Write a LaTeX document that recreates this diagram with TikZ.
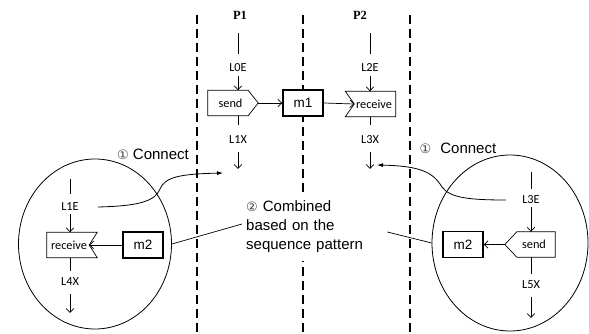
\documentclass[tikz,border=0pt]{standalone}
\usepackage{fontspec}
\setmainfont{Liberation Sans}
\newfontfamily\lblfont{Carlito}
\newfontfamily\symfont{DejaVu Sans}
\newfontfamily\headfont{Liberation Serif}
\usetikzlibrary{arrows.meta,shapes.geometric}

\newcommand{\circnum}[1]{{\symfont\fontsize{13}{13}\selectfont\color{black!75}#1}}

\begin{document}
\begin{tikzpicture}[x=1pt,y=-1pt,
  lane/.style={line width=2.2pt, dash pattern=on 9pt off 5pt},
  head/.style={font=\headfont\bfseries\fontsize{12.5}{13}\selectfont, inner sep=0pt},
  lbl/.style={font=\lblfont\fontsize{12.3}{13}\selectfont, inner sep=0pt},
  evbox/.style={minimum width=50pt, minimum height=25pt, inner sep=0pt,
    font=\lblfont\fontsize{12.3}{13}\selectfont},
  msgbox/.style={draw, fill=white, line width=1.4pt, minimum width=40pt, minimum height=26pt,
    inner sep=0pt, font=\fontsize{13.5}{15}\selectfont},
  tick/.style={line width=0.7pt},
  flow/.style={line width=0.7pt, -{Straight Barb[length=4pt,width=7.5pt]}},
  link/.style={line width=0.8pt, -{Latex[length=6pt,width=4pt]}},
  bigtext/.style={font=\fontsize{15}{19}\selectfont, inner sep=0pt},
  cell/.style={draw, line width=0.8pt, ellipse, inner sep=0pt}
]
\useasboundingbox (0,0) rectangle (589,334);

% process lanes
\draw[lane] (197,15) -- (197,334);
\draw[lane] (303,15) -- (303,334);
\draw[lane] (410,15) -- (410,334);

\node[head] (p1) at (240,15) {P1};
\node[head] (p2) at (360,15) {P2};

% explanation text (white background hides the lane behind it)
\node[bigtext, fill=white, anchor=west, align=left, text width=137pt,
  inner xsep=4pt, inner ysep=8pt] (combo) at (242,227)
  {\circnum{②} Combined\\based on the\\sequence pattern};

% ---- process P1 ----
\coordinate (a0) at (238,33);
\node[lbl] (l0e) at (238,68) {L0E};
\node[evbox] (s1) at (233,103) {\hspace*{-5pt}send};
\draw[tick] (s1.north west) -- ([xshift=-10pt]s1.north east) -- (s1.east)
  -- ([xshift=-10pt]s1.south east) -- (s1.south west) -- cycle;
\node[lbl] (l1x) at (238,140) {L1X};
\coordinate (e1) at (238,169);
\draw[tick] (a0) -- ([yshift=10pt]l0e.north);
\draw[flow, shorten <=4pt] (l0e) -- (l0e |- s1.north);
\draw[tick] (l1x |- s1.south) -- ([yshift=11pt]l1x.north);
\draw[flow, shorten <=8pt] (l1x) -- (e1);

% ---- message m1 ----
\node[msgbox] (m1) at (303,103) {m1};
\draw[flow] (s1.east) -- (m1.west);

% ---- process P2 ----
\coordinate (a2) at (370,33);
\node[lbl] (l2e) at (370,68) {L2E};
\node[evbox] (r1) at (370.5,104) {\hspace*{7pt}receive};
\draw[tick] (r1.north west) -- (r1.north east) -- (r1.south east)
  -- (r1.south west) -- ([xshift=9pt]r1.west) -- cycle;
\node[lbl] (l3x) at (370,140) {L3X};
\coordinate (e3) at (370,169);
\draw[tick] (a2) -- ([yshift=10pt]l2e.north);
\draw[flow, shorten <=4pt] (l2e) -- (l2e |- r1.north);
\draw[tick] (l3x |- r1.south) -- ([yshift=11pt]l3x.north);
\draw[flow, shorten <=8pt] (l3x) -- (e3);
\draw[flow] (m1.east) -- ([xshift=9pt]r1.west);

% ---- left fragment ----
\node[cell, minimum width=153pt, minimum height=170pt] (cl) at (95,244) {};
\node[bigtext] (cn1) at (153,154) {\circnum{①} Connect};
\coordinate (a4) at (70,179);
\node[lbl] (l1e) at (70,207) {L1E};
\node[evbox] (r2) at (72,245) {\hspace*{-6pt}receive};
\draw[tick] (r2.north west) -- (r2.north east) -- ([xshift=-8pt]r2.east)
  -- (r2.south east) -- (r2.south west) -- cycle;
\node[lbl] (l4x) at (70,282) {L4X};
\coordinate (e4) at (70,313);
\draw[tick] (a4) -- ([yshift=9pt]l1e.north);
\draw[flow, shorten <=3pt] (l1e) -- (l1e |- r2.north);
\draw[tick] (l4x |- r2.south) -- ([yshift=7pt]l4x.north);
\draw[flow, shorten <=8pt] (l4x) -- (e4);
\node[msgbox] (m2a) at (143,245) {m2};
\draw[flow] (m2a.west) -- ([xshift=-8pt]r2.east);

% ---- right fragment ----
\node[cell, minimum width=156pt, minimum height=176pt] (cr) at (510,243) {};
\node[bigtext] (cn2) at (458,148) {\circnum{①}\hspace{9pt}Connect};
\coordinate (a5) at (531,172);
\node[lbl] (l3e) at (531,200) {L3E};
\node[evbox] (s2) at (530,244.5) {\hspace*{8pt}send};
\draw[tick] (s2.west) -- ([xshift=12pt]s2.north west) -- (s2.north east)
  -- (s2.south east) -- ([xshift=12pt]s2.south west) -- cycle;
\node[lbl] (l5x) at (531,285) {L5X};
\coordinate (e5) at (531,318);
\draw[tick] (a5) -- ([yshift=7pt]l3e.north);
\draw[flow, shorten <=3pt] (l3e) -- (l3e |- s2.north);
\draw[tick] (l5x |- s2.south) -- ([yshift=7pt]l5x.north);
\draw[flow, shorten <=8pt] (l5x) -- (e5);
\node[msgbox] (m2b) at (463,244.5) {m2};
\draw[flow] (s2.west) -- (m2b.east);

% ---- connections between fragments and the lanes ----
\coordinate (c1) at (223,173);
\coordinate (c3) at (377,165);
\draw[link] ([xshift=19pt]l1e.east) .. controls (140,206) and (155,201) .. (160,189)
  .. controls (165,177) and (180,174) .. (c1);
\draw[link] ([xshift=-16pt]l3e.west) .. controls (470,200) and (450,198) .. (442,187)
  .. controls (433,172) and (420,166) .. (c3);

\draw[tick] (cl.east) -- ([yshift=3pt]combo.west);
\draw[tick] (cr.west) -- ([yshift=-5pt]combo.east);
\end{tikzpicture}
\end{document}
